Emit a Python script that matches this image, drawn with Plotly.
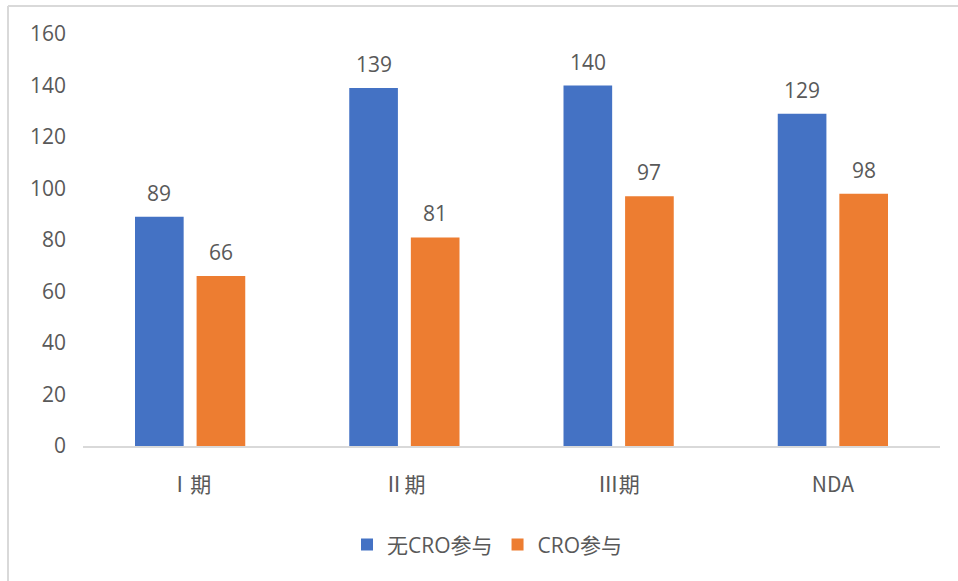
import plotly.graph_objects as go

# Trial phases and counts
categories = ["Ⅰ期", "Ⅱ期", "Ⅲ期", "NDA"]
no_cro = [89, 139, 140, 129]
with_cro = [66, 81, 97, 98]
series_names = ["无CRO参与", "CRO参与"]
y_ticks = [0, 20, 40, 60, 80, 100, 120, 140, 160]

BLUE = "#4472C4"
ORANGE = "#ED7D31"
TEXT = "#595959"
LINE = "#D9D9D9"
FONT = "Open Sans, Noto Sans CJK SC, sans-serif"
CJK_FONT = "Noto Sans CJK SC, Open Sans, sans-serif"

fig = go.Figure()
fig.add_trace(go.Bar(x=categories, y=no_cro, name=series_names[0],
                     marker=dict(color=BLUE, line=dict(width=0))))
fig.add_trace(go.Bar(x=categories, y=with_cro, name=series_names[1],
                     marker=dict(color=ORANGE, line=dict(width=0))))

# Value labels above each bar
annotations = []
for vals, shift in ((no_cro, -30.75), (with_cro, 30.75)):
    for cat, v in zip(categories, vals):
        annotations.append(dict(
            x=cat, y=v, xref="x", yref="y", text=str(v), showarrow=False,
            xshift=shift, yshift=8, yanchor="bottom",
            font=dict(family=FONT, size=21, color=TEXT)))

fig.update_layout(
    width=958, height=581,
    margin=dict(l=83, r=18, t=34, b=135),
    paper_bgcolor="white", plot_bgcolor="white",
    barmode="group", bargap=0.425, bargroupgap=0.21,
    font=dict(family=FONT, size=21, color=TEXT),
    showlegend=True,
    legend=dict(orientation="h", x=0.472, xanchor="center",
                y=-0.24, yanchor="middle",
                font=dict(family=FONT, size=21, color=TEXT)),
    annotations=annotations,
    shapes=[
        dict(type="line", xref="paper", yref="paper",
             x0=-0.0875, x1=1.03, y0=1.068, y1=1.068,
             line=dict(color=LINE, width=2)),
        dict(type="line", xref="paper", yref="paper",
             x0=-0.0875, x1=-0.0875, y0=1.068, y1=-0.35,
             line=dict(color=LINE, width=2)),
    ],
)
fig.update_xaxes(showline=True, linecolor=LINE, linewidth=2,
                 showgrid=False, ticks="", ticklabelstandoff=19,
                 tickfont=dict(family=CJK_FONT, size=21, color=TEXT))
fig.update_yaxes(range=[0, 160], tickvals=y_ticks, showgrid=False,
                 zeroline=False, showline=False, ticks="",
                 ticklabelstandoff=16,
                 tickfont=dict(family=FONT, size=21, color=TEXT))

fig.write_html("out.html")
